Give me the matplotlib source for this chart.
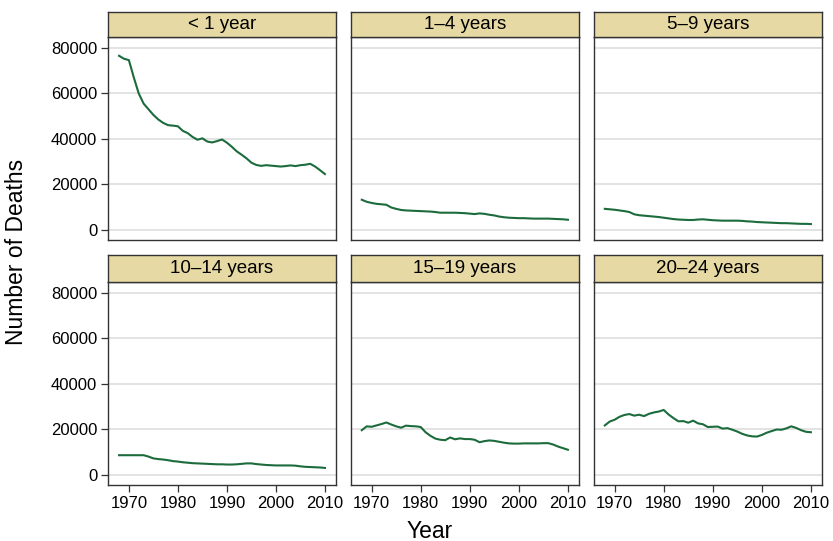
import matplotlib
matplotlib.use("Agg")
import matplotlib.pyplot as plt

plt.rcParams["font.family"] = ["Liberation Sans", "DejaVu Sans"]

years = list(range(1968, 2011))

age_groups = ["< 1 year", "1\u20134 years", "5\u20139 years",
              "10\u201314 years", "15\u201319 years", "20\u201324 years"]

deaths_under1 = [76500, 75200, 74600, 67000, 60000, 55500, 53000, 50500, 48500, 47000,
                 46000, 45800, 45500, 43500, 42500, 40800, 39600, 40200, 38800, 38400,
                 39000, 39700, 38300, 36500, 34500, 33000, 31400, 29500, 28500, 28100,
                 28400, 28200, 28000, 27800, 28000, 28300, 28000, 28400, 28600, 29000,
                 27800, 26200, 24500]
deaths_1_4 = [13200, 12300, 11800, 11400, 11200, 11000, 9800, 9200, 8700, 8500,
              8400, 8300, 8200, 8100, 8000, 7800, 7500, 7500, 7500, 7500,
              7400, 7300, 7100, 6900, 7200, 7000, 6600, 6300, 5800, 5500,
              5300, 5200, 5100, 5100, 5000, 4900, 4900, 4900, 4900, 4800,
              4700, 4600, 4400]
deaths_5_9 = [9200, 9000, 8800, 8500, 8200, 7800, 6800, 6400, 6200, 6000,
              5800, 5600, 5300, 5000, 4700, 4500, 4400, 4300, 4300, 4500,
              4600, 4400, 4200, 4100, 4000, 4000, 4000, 4000, 3900, 3700,
              3600, 3400, 3300, 3200, 3100, 3000, 2900, 2900, 2800, 2700,
              2600, 2600, 2500]
deaths_10_14 = [8600, 8600, 8600, 8600, 8600, 8600, 8000, 7200, 6900, 6700,
                6400, 6000, 5800, 5500, 5300, 5100, 5000, 4900, 4800, 4700,
                4600, 4600, 4500, 4500, 4600, 4800, 5000, 5000, 4700, 4500,
                4300, 4200, 4100, 4100, 4100, 4100, 4000, 3700, 3500, 3400,
                3300, 3200, 3000]
deaths_15_19 = [19600, 21300, 21100, 21700, 22300, 23000, 22100, 21300, 20700, 21600,
                21400, 21300, 21000, 18700, 17100, 15900, 15400, 15200, 16400, 15600,
                16000, 15700, 15700, 15400, 14300, 14800, 15100, 14900, 14500, 14100,
                13800, 13700, 13700, 13800, 13800, 13800, 13800, 13900, 13900, 13300,
                12400, 11700, 11000]
deaths_20_24 = [21700, 23400, 24200, 25500, 26300, 26700, 26000, 26400, 25800, 26800,
                27400, 27800, 28500, 26500, 24900, 23500, 23600, 22900, 23800, 22600,
                22200, 21000, 21100, 21200, 20300, 20500, 19800, 19000, 18000, 17300,
                16900, 16800, 17500, 18500, 19200, 19900, 19800, 20400, 21300, 20600,
                19600, 18900, 18700]

series = [deaths_under1, deaths_1_4, deaths_5_9, deaths_10_14, deaths_15_19, deaths_20_24]

y_ticks = [0, 20000, 40000, 60000, 80000]
x_ticks = [1970, 1980, 1990, 2000, 2010]

W, H = 833, 541
line_color = "#1c6b3c"
strip_color = "#e6d9a3"
frame_color = "#333333"
grid_color = "#e1e1e1"

# panel edges in pixels
col_x = [(108.3, 335.7), (351.0, 578.7), (594.0, 821.7)]
row_y = [(11.7, 36.7, 240.0), (255.0, 281.7, 485.0)]  # strip top, plot top, plot bottom

fig = plt.figure(figsize=(W / 100, H / 100), dpi=100)


def frac_rect(x0, x1, ytop, ybot):
    return [x0 / W, 1 - ybot / H, (x1 - x0) / W, (ybot - ytop) / H]


for i, (label, values) in enumerate(zip(age_groups, series)):
    r, c = divmod(i, 3)
    x0, x1 = col_x[c]
    s_top, p_top, p_bot = row_y[r]

    ax = fig.add_axes(frac_rect(x0, x1, p_top, p_bot))
    ax.plot(years, values, color=line_color, lw=1.5)
    ax.set_xlim(1965.8, 2012.2)
    ax.set_ylim(-4500, 84900)
    ax.set_yticks(y_ticks)
    ax.set_xticks(x_ticks)
    ax.grid(axis="y", color=grid_color, lw=1.3)
    ax.set_axisbelow(True)
    for sp in ax.spines.values():
        sp.set_color(frame_color)
        sp.set_linewidth(1.0)
    ax.tick_params(direction="out", length=5, width=0.9, color=frame_color,
                   labelsize=12, pad=3)
    if c == 0:
        ax.set_yticklabels([str(v) for v in y_ticks])
    else:
        ax.tick_params(axis="y", left=False, labelleft=False)
    if r == 1:
        ax.set_xticklabels([str(v) for v in x_ticks])
    else:
        ax.tick_params(axis="x", bottom=False, labelbottom=False)

    # strip title
    sax = fig.add_axes(frac_rect(x0, x1, s_top, p_top))
    sax.set_facecolor(strip_color)
    sax.set_xticks([])
    sax.set_yticks([])
    for sp in sax.spines.values():
        sp.set_color(frame_color)
        sp.set_linewidth(1.0)
    sax.text(0.5, 0.48, label, ha="center", va="center", fontsize=13.5,
             transform=sax.transAxes)

fig.text(430 / W, 1 - 531 / H, "Year", ha="center", va="center", fontsize=16.5)
fig.text(17 / W, 1 - 252 / H, "Number of Deaths", ha="center", va="center",
         fontsize=16.5, rotation=90)

fig.savefig("out.png", dpi=100)
